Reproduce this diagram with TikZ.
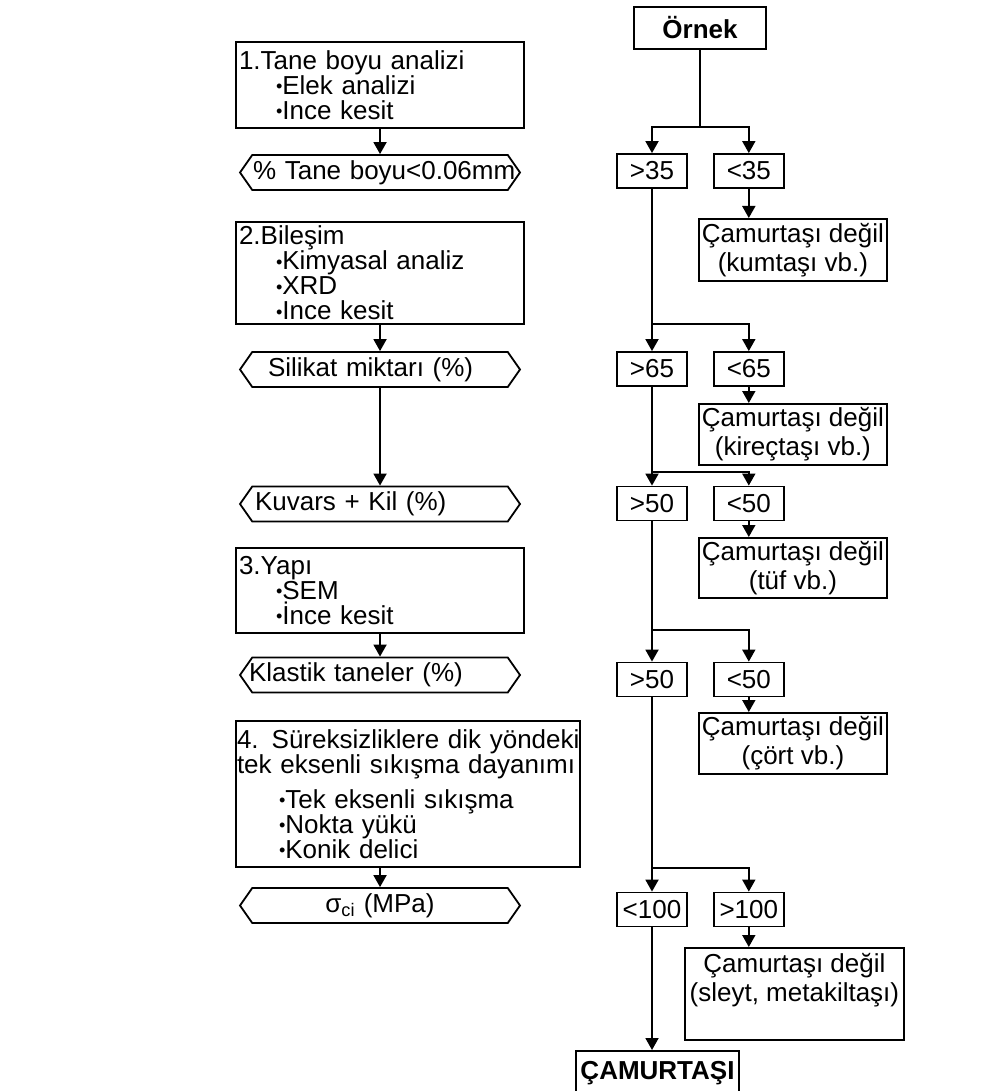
\documentclass[tikz,border=0pt]{standalone}
\usepackage{fontspec}
\setmainfont{Liberation Sans}
\usepackage{graphicx}
\usetikzlibrary{arrows.meta,positioning,shapes.symbols}
\newcommand{\bigtxt}{\fontsize{26pt}{25pt}\selectfont}
\newcommand{\bul}{\raisebox{1.5pt}{\scalebox{0.7}{\textbullet}}}

\begin{document}
\begin{tikzpicture}[x=1pt,y=-1pt,>={Triangle[length=12pt,width=13pt]},line width=1.8pt,
every node/.style={font=\bigtxt},
box/.style={draw,align=left,text width=282pt,inner xsep=3pt,inner ysep=0pt},
hexa/.style={draw,signal,signal to=west and east,signal pointer angle=110,minimum width=280pt,minimum height=35pt,text width=250pt,align=left,inner sep=0pt},
dec/.style={draw,minimum width=70pt,minimum height=34pt,inner sep=0pt},
nd/.style={draw,anchor=north west,align=center,minimum width=188pt,inner sep=0pt}]
\useasboundingbox (0,0) rectangle (981,1091);
% left column: analyses
\node[box,minimum height=86pt] (tane) at (380,85) {1.Tane boyu analizi\\\hspace*{37pt}\bul Elek analizi\\\hspace*{37pt}\bul Ince kesit};
\node[hexa] (taneh) at (380,172.5) {\hspace*{-2pt}\mbox{\% Tane boyu<0.06mm}};
\node[box,minimum height=102pt] (bil) at (380,273) {2.Bileşim\\\hspace*{37pt}\bul Kimyasal analiz\\\hspace*{37pt}\bul XRD\\\hspace*{37pt}\bul Ince kesit};
\node[hexa] (sil) at (380,369.5) {\hspace*{13pt}Silikat miktarı (\%)};
\node[hexa] (kuv) at (380,504) {Kuvars + Kil (\%)};
\node[box,minimum height=85pt] (yapi) at (380,590.5) {3.Yapı\\\hspace*{37pt}\bul SEM\\\hspace*{37pt}\bul İnce kesit};
\node[hexa] (klas) at (380,675) {\hspace*{-6pt}Klastik taneler (\%)};
\node[box,text width=342pt,inner xsep=1pt,minimum height=146pt] (dayan) at (408,794) {\mbox{4. Süreksizliklere dik yöndeki}\\\mbox{tek eksenli sıkışma dayanımı}\\[10pt]\hspace*{42pt}\bul Tek eksenli sıkışma\\\hspace*{42pt}\bul Nokta yükü\\\hspace*{42pt}\bul Konik delici};
\node[hexa,align=center] (sig) at (380,905.5) {σ\textsubscript{ci} (MPa)};
\draw[->] (tane)--(taneh);\draw[->] (bil)--(sil);\draw[->] (sil)--(kuv);
\draw[->] (yapi)--(klas);\draw[->] (dayan.south -| sig.north)--(sig);
% right column: decisions
\node[draw,font=\bigtxt\bfseries,minimum width=132pt,minimum height=42pt,inner sep=0pt] (ornek) at (700,28) {Örnek};
\node[dec] (g35) at (652,171) {>35};
\node[dec,right=25pt of g35] (l35) {<35};
\node[nd,minimum height=62pt] (nd1) at (698,218) {Çamurtaşı değil\\[4pt](kumtaşı vb.)};
\node[dec] (g65) at (652,369) {>65};
\node[dec,right=25pt of g65] (l65) {<65};
\node[nd,minimum height=61pt] (nd2) at (698,403) {Çamurtaşı değil\\[4pt](kireçtaşı vb.)};
\node[dec] (g50) at (652,503.5) {>50};
\node[dec,right=25pt of g50] (l50) {<50};
\node[nd,minimum height=60pt] (nd3) at (698,537) {Çamurtaşı değil\\[4pt](tüf vb.)};
\node[dec] (g50b) at (652,679.5) {>50};
\node[dec,right=25pt of g50b] (l50b) {<50};
\node[nd,minimum height=61pt] (nd4) at (698,712) {Çamurtaşı değil\\[4pt](çört vb.)};
\node[dec] (l100) at (652,909.5) {<100};
\node[dec,right=25pt of l100] (g100) {>100};
\node[nd,minimum width=219pt,minimum height=92pt] (nd5) at (684,947) {Çamurtaşı değil\\[4pt](sleyt, metakiltaşı)\\[8pt]\mbox{}};
\node[draw,font=\bigtxt\bfseries,minimum width=163pt,minimum height=44pt,inner sep=0pt,anchor=north] (camur) at (657.5,1050) {ÇAMURTAŞI};
\coordinate (br1) at (700,127);
\coordinate (br2) at (652,324);
\coordinate (br3) at (652,472);
\coordinate (br4) at (652,630);
\coordinate (br5) at (652,868);
\draw (ornek)--(br1);\draw[->] (br1)-|(g35);\draw[->] (br1)-|(l35);
\draw[->] (l35)--(l35 |- nd1.north);
\draw (g35)--(br2);\draw[->] (br2)--(g65);\draw[->] (br2)-|(l65);
\draw[->] (l65)--(l65 |- nd2.north);
\draw (g65)--(br3);\draw[->] (br3)--(g50);\draw[->] (br3)-|(l50);
\draw[->] (l50)--(l50 |- nd3.north);
\draw (g50)--(br4);\draw[->] (br4)--(g50b);\draw[->] (br4)-|(l50b);
\draw[->] (l50b)--(l50b |- nd4.north);
\draw (g50b)--(br5);\draw[->] (br5)--(l100);\draw[->] (br5)-|(g100);
\draw[->] (g100)--(g100 |- nd5.north);
\draw[->] (l100)--(l100 |- camur.north);
\end{tikzpicture}
\end{document}
